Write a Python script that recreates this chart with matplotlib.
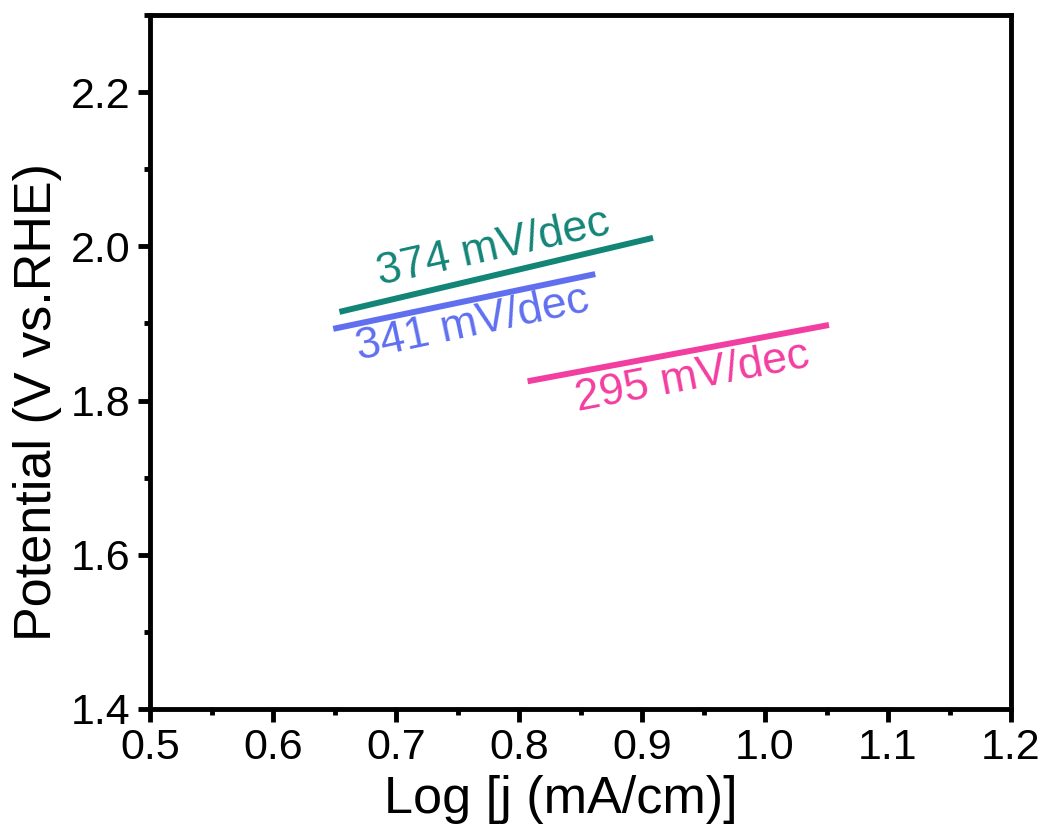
import matplotlib
matplotlib.use("Agg")
import matplotlib.pyplot as plt
from matplotlib.ticker import MultipleLocator

plt.rcParams['font.family'] = ['Liberation Sans', 'DejaVu Sans']

# Data (Tafel fit segments)
teal_x = [0.654, 0.909]
teal_y = [1.915, 2.011]
blue_x = [0.649, 0.862]
blue_y = [1.893, 1.964]
pink_x = [0.807, 1.052]
pink_y = [1.825, 1.898]
labels = ["374 mV/dec", "341 mV/dec", "295 mV/dec"]
label_pos = [(0.779, 1.998), (0.762, 1.899), (0.941, 1.830)]
label_rot = [12.5, 12.0, 10.8]
colors = ['#138577', '#5f6ff0', '#f23ea0']

fig = plt.figure(figsize=(10.47, 8.34), dpi=100)
ax = fig.add_axes([150/1047, 1 - 709/834, (1011-150)/1047, (709-15)/834])

for (xs, ys), c in zip([(teal_x, teal_y), (blue_x, blue_y), (pink_x, pink_y)], colors):
    ax.plot(xs, ys, color=c, lw=4.3, solid_capstyle='butt')

for lab, (px, py), r, c in zip(labels, label_pos, label_rot, colors):
    ax.text(px, py, lab, color=c, fontsize=32, rotation=r, ha='center', va='center',
            rotation_mode='anchor')

ax.set_xlim(0.5, 1.2)
ax.set_ylim(1.4, 2.3)
ax.xaxis.set_major_locator(MultipleLocator(0.1))
ax.xaxis.set_minor_locator(MultipleLocator(0.05))
ax.yaxis.set_major_locator(MultipleLocator(0.2))
ax.yaxis.set_minor_locator(MultipleLocator(0.1))
ax.set_yticks([1.4, 1.6, 1.8, 2.0, 2.2])

for s in ax.spines.values():
    s.set_linewidth(3.5)
ax.tick_params(which='major', direction='out', length=9, width=3.5, labelsize=31, pad=5)
ax.tick_params(which='minor', direction='out', length=4, width=3.5)
ax.tick_params(top=False, right=False, which='both')

ax.set_xlabel('Log [j (mA/cm)]', fontsize=37.5, labelpad=5)
ax.set_ylabel('Potential (V vs.RHE)', fontsize=37.5, labelpad=6)
ax.xaxis.label.set_x(0.477)
ax.yaxis.label.set_y(0.442)

fig.savefig('out.png', dpi=100)
